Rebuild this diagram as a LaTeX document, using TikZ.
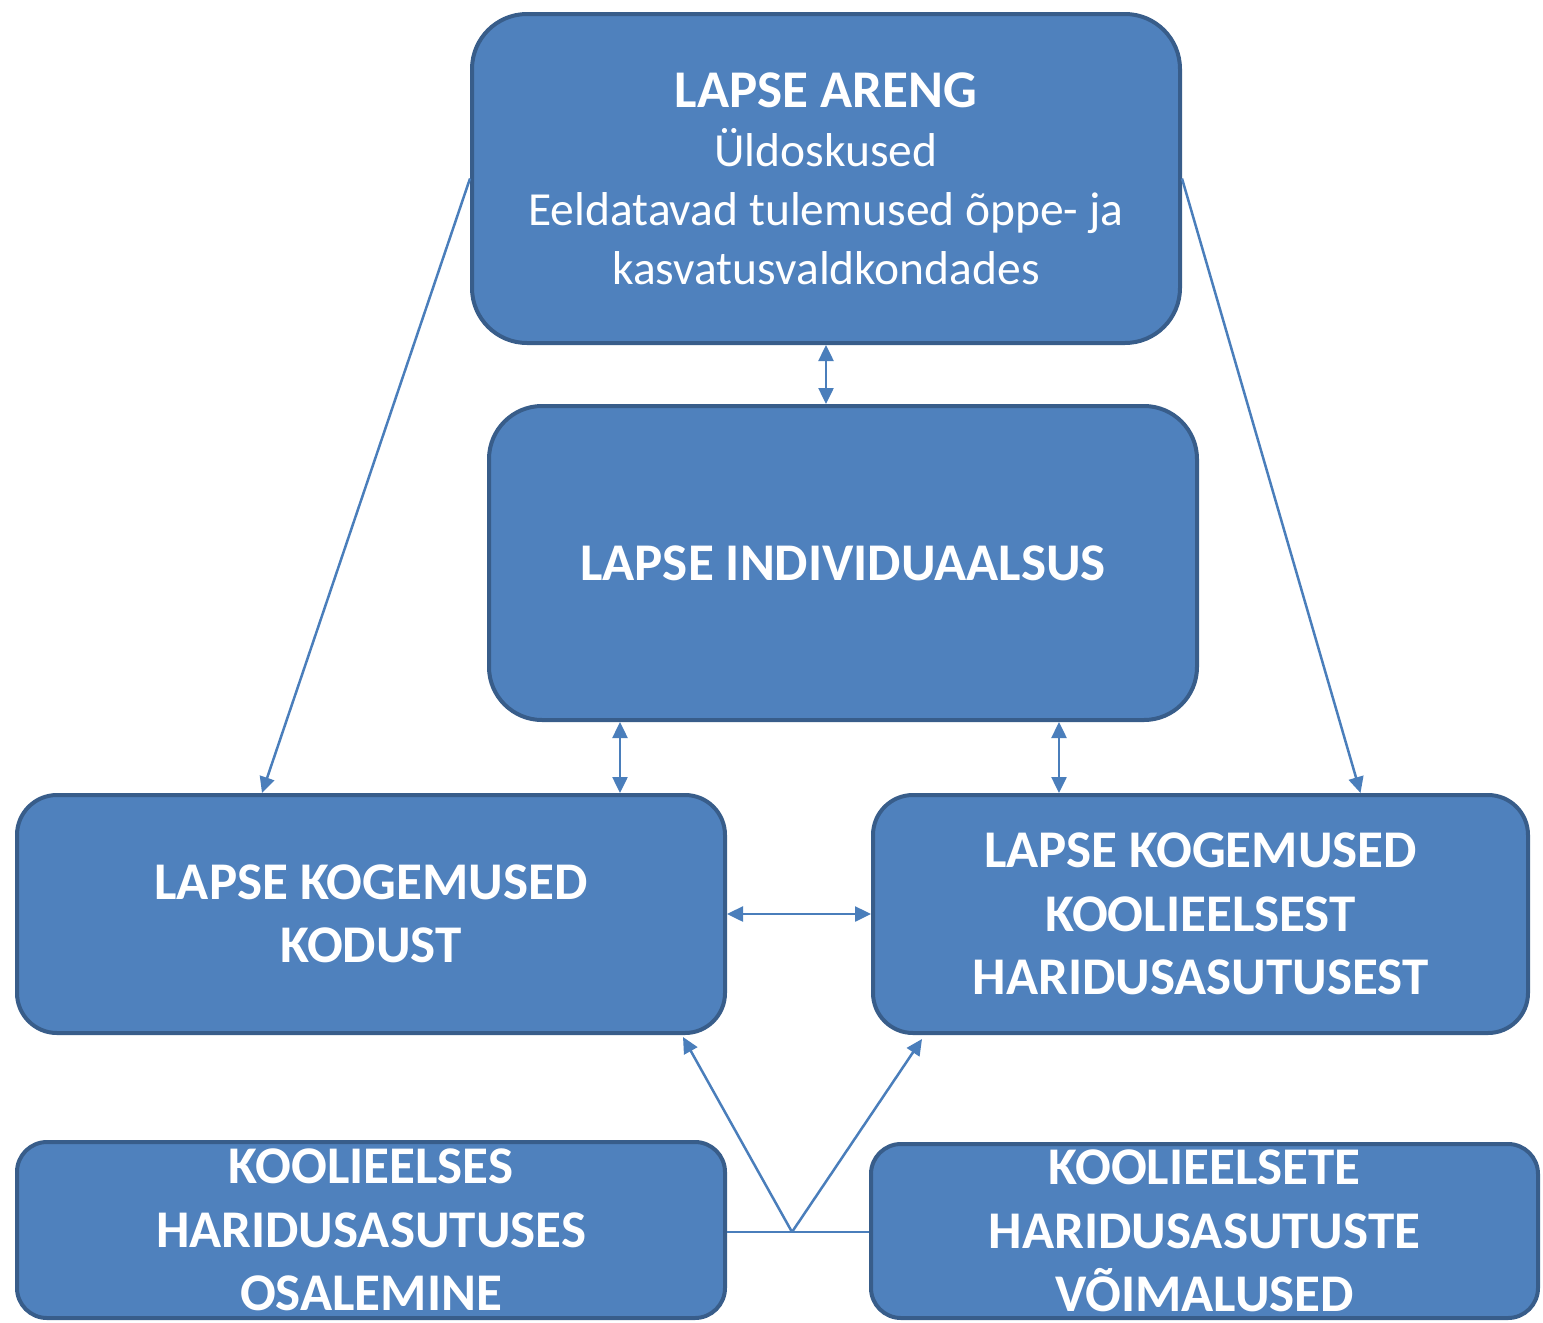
\documentclass[tikz,border=0pt]{standalone}
\usepackage{fontspec}
\setmainfont{Carlito}
\usetikzlibrary{arrows.meta}
\definecolor{boxfill}{HTML}{4F81BD}
\definecolor{boxline}{HTML}{385D8A}
\definecolor{connc}{HTML}{4A7EBB}
\begin{document}
\begin{tikzpicture}[x=1pt,y=-1pt,
  box/.style={draw=boxline, fill=boxfill, line width=4pt, text=white, align=center, inner sep=0pt},
  conn/.style={draw=connc, line width=2.5pt},
  thin/.style={draw=connc, line width=2pt},
  tip/.style={-{Triangle[length=16pt,width=15pt]}},
  tips/.style={{Triangle[length=16pt,width=15pt]}-{Triangle[length=16pt,width=15pt]}},
  big/.style={font=\bfseries\fontsize{53}{63.5}\selectfont}]
\useasboundingbox (0,0) rectangle (1543,1323);
\node[box, minimum width=708pt, minimum height=329pt, rounded corners=55pt,
      font=\fontsize{47.5}{59}\selectfont] (top) at (826,178.5)
  {{\bfseries\fontsize{53}{59}\selectfont LAPSE ARENG}\\Üldoskused\\Eeldatavad tulemused õppe- ja\\kasvatusvaldkondades};
\node[box, big, minimum width=708pt, minimum height=314pt, rounded corners=53pt] (mid) at (843,563)
  {LAPSE INDIVIDUAALSUS};
\node[box, big, minimum width=708pt, minimum height=238pt, rounded corners=40pt] (left) at (371,914)
  {LAPSE KOGEMUSED\\KODUST};
\node[box, big, minimum width=655pt, minimum height=238pt, rounded corners=40pt] (right) at (1200.5,914)
  {LAPSE KOGEMUSED\\KOOLIEELSEST\\HARIDUSASUTUSEST};
\node[box, big, minimum width=708pt, minimum height=176pt, rounded corners=30pt] (bl) at (371,1230)
  {KOOLIEELSES\\HARIDUSASUTUSES\\OSALEMINE};
\node[box, big, minimum width=667pt, minimum height=174pt, rounded corners=30pt] (br) at (1204.5,1231)
  {KOOLIEELSETE\\HARIDUSASUTUSTE\\VÕIMALUSED};
% connectors
\draw[conn, tips] (top.south) -- (top.south |- mid.north);
\draw[conn, tips] ([xshift=-223pt]mid.south) -- ([xshift=-223pt]mid.south |- left.north);
\draw[conn, tips] ([xshift=216pt]mid.south) -- ([xshift=216pt]mid.south |- right.north);
\draw[conn, tips] (left.east) -- (left.east -| right.west);
\draw[conn, tip] (top.west) -- ([xshift=-109pt]left.north);
\draw[conn, tip] (top.east) -- ([xshift=160pt]right.north);
\coordinate (j) at (792,1232);
\draw[thin] (bl.east |- j) -- (j) -- (j -| br.west);
\draw[conn, tip] (j) -- ([xshift=-44pt,yshift=-2pt]left.south east);
\draw[conn, tip] (j) -- ([xshift=51pt,yshift=-4pt]right.south west);
\end{tikzpicture}
\end{document}
